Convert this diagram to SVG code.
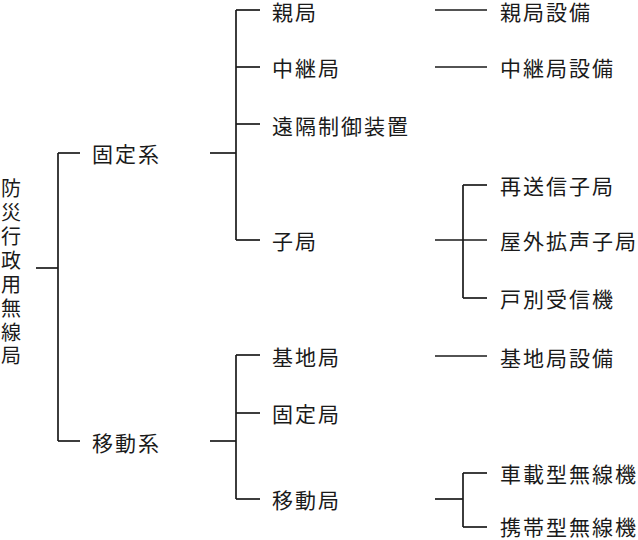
<svg xmlns="http://www.w3.org/2000/svg" width="638" height="540" viewBox="0 0 638 540">
<style>
text{font-family:"Noto Sans CJK JP","Noto Sans CJK SC",sans-serif;font-size:21px;fill:#1a1a1a;letter-spacing:2px;dominant-baseline:central}
.c line{stroke:#1a1a1a;stroke-width:1.7;fill:none}
</style>
<rect width="638" height="540" fill="#fff"/>
<g class="c" id="connectors">
<line x1="36" y1="268" x2="58" y2="268"/>
<line x1="58" y1="153" x2="58" y2="441"/>
<line x1="58" y1="153" x2="80" y2="153"/>
<line x1="58" y1="441" x2="80" y2="441"/>
<line x1="210" y1="153" x2="236" y2="153"/>
<line x1="236" y1="10" x2="236" y2="240"/>
<line x1="236" y1="10" x2="260" y2="10"/>
<line x1="236" y1="67" x2="260" y2="67"/>
<line x1="236" y1="124" x2="260" y2="124"/>
<line x1="236" y1="240" x2="260" y2="240"/>
<line x1="435" y1="10" x2="487" y2="10"/>
<line x1="435" y1="67" x2="487" y2="67"/>
<line x1="435" y1="240" x2="487" y2="240"/>
<line x1="463" y1="185" x2="463" y2="298"/>
<line x1="463" y1="185" x2="487" y2="185"/>
<line x1="463" y1="298" x2="487" y2="298"/>
<line x1="210" y1="441" x2="236" y2="441"/>
<line x1="236" y1="355" x2="236" y2="499"/>
<line x1="236" y1="355" x2="260" y2="355"/>
<line x1="236" y1="413" x2="260" y2="413"/>
<line x1="236" y1="499" x2="260" y2="499"/>
<line x1="435" y1="356" x2="487" y2="356"/>
<line x1="435" y1="499" x2="463" y2="499"/>
<line x1="463" y1="473" x2="463" y2="527"/>
<line x1="463" y1="473" x2="487" y2="473"/>
<line x1="463" y1="527" x2="487" y2="527"/>
</g>
<g id="root"><text text-anchor="middle" style="letter-spacing:0;font-size:20px"><tspan x="11" y="187">防</tspan><tspan x="11" y="211">災</tspan><tspan x="11" y="235">行</tspan><tspan x="11" y="259">政</tspan><tspan x="11" y="283">用</tspan><tspan x="11" y="307">無</tspan><tspan x="11" y="331">線</tspan><tspan x="11" y="354">局</tspan></text></g>
<g id="kotei"><text x="92" y="153">固定系</text></g>
<g id="idou"><text x="92" y="442">移動系</text></g>
<g id="oya"><text x="272" y="11">親局</text></g>
<g id="chukei"><text x="272" y="67">中継局</text></g>
<g id="enkaku"><text x="272" y="125">遠隔制御装置</text></g>
<g id="kokyoku"><text x="272" y="240">子局</text></g>
<g id="oyasetsubi"><text x="500" y="11">親局設備</text></g>
<g id="chukeisetsubi"><text x="500" y="67">中継局設備</text></g>
<g id="saisoushin"><text x="500" y="185">再送信子局</text></g>
<g id="okugai"><text x="500" y="240">屋外拡声子局</text></g>
<g id="kobetsu"><text x="500" y="298">戸別受信機</text></g>
<g id="kichi"><text x="272" y="356">基地局</text></g>
<g id="koteikyoku"><text x="272" y="413">固定局</text></g>
<g id="idoukyoku"><text x="272" y="499">移動局</text></g>
<g id="kichisetsubi"><text x="500" y="357">基地局設備</text></g>
<g id="shasai"><text x="500" y="473">車載型無線機</text></g>
<g id="keitai"><text x="500" y="526">携帯型無線機</text></g>
</svg>
